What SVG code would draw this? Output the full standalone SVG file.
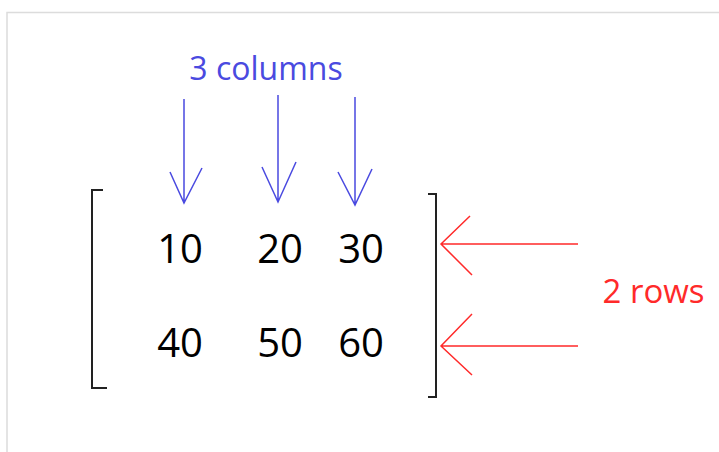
<svg xmlns="http://www.w3.org/2000/svg" width="719" height="452" viewBox="0 0 719 452">
<style>
.num{font-family:"Open Sans","Liberation Sans",sans-serif;font-size:40px;fill:#000;text-anchor:middle}
.blue{stroke:#4a4ae0;stroke-width:1.5;fill:none}
.red{stroke:#ff2a2a;stroke-width:1.5;fill:none}
.br{stroke:#222;stroke-width:2;fill:none}
</style>
<rect x="0" y="0" width="719" height="452" fill="#fff"/>
<path d="M7,452 V12.5 H719" stroke="#dcdcdc" stroke-width="1.5" fill="none"/>
<g id="matrix">
<path class="br" d="M103,190 H92 V388 H107"/>
<path class="br" d="M428,194 H436 V397 H428"/>
<text class="num" x="180" y="263">10</text>
<text class="num" x="280" y="263">20</text>
<text class="num" x="361" y="263">30</text>
<text class="num" x="180" y="357">40</text>
<text class="num" x="280" y="357">50</text>
<text class="num" x="361" y="357">60</text>
</g>
<g id="columns-label">
<text x="266" y="80" font-family="Open Sans, Liberation Sans, sans-serif" font-size="32" fill="#4a4ae0" text-anchor="middle">3 columns</text>
</g>
<g id="rows-label">
<text x="653.5" y="303" font-family="Open Sans, Liberation Sans, sans-serif" font-size="33" fill="#ff2a2a" text-anchor="middle">2 rows</text>
</g>
<g id="connectors">
<path class="blue" d="M184,99 V203 M170,172 L184,203 L202,168"/>
<path class="blue" d="M278,95 V202 M262,167 L278,202 L296,162"/>
<path class="blue" d="M355,97 V205 M338,172 L355,205 L372,169"/>
<path class="red" d="M578,244 H441 M470,216 L441,244 L472,275"/>
<path class="red" d="M578,346 H441 M472,314 L441,346 L472,375"/>
</g>
</svg>
